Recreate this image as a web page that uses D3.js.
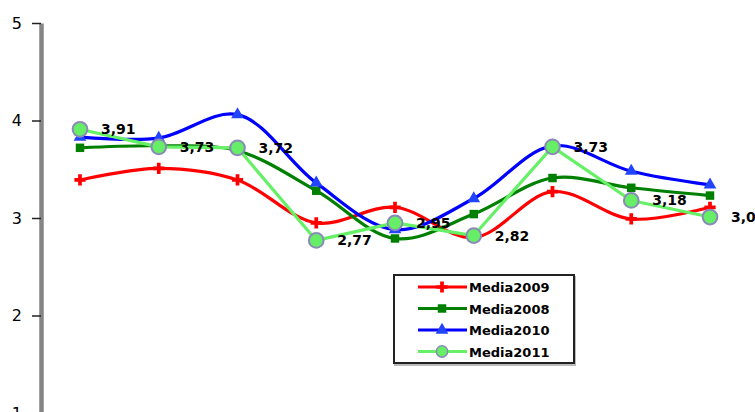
<!DOCTYPE html>
<html>
<head>
<meta charset="utf-8">
<script src="https://cdn.jsdelivr.net/npm/d3@7/dist/d3.min.js"></script>
<style>
  html, body { margin: 0; padding: 0; background: #fff; }
  svg { display: block; }
</style>
</head>
<body>
<svg id="chart" width="755" height="412"></svg>
<script>
// Nine survey items, four yearly averages
const categories = ["1", "2", "3", "4", "5", "6", "7", "8", "9"];
const media2009 = [3.39, 3.51, 3.39, 2.95, 3.11, 2.80, 3.27, 2.99, 3.11];
const media2008 = [3.72, 3.74, 3.69, 3.28, 2.79, 3.04, 3.41, 3.31, 3.23];
const media2010 = [3.83, 3.82, 4.06, 3.36, 2.88, 3.20, 3.74, 3.48, 3.34];
const media2011 = [3.91, 3.73, 3.72, 2.77, 2.95, 2.82, 3.73, 3.18, 3.01];
const yTicks = [1, 2, 3, 4, 5];
const seriesNames = ["Media2009", "Media2008", "Media2010", "Media2011"];

const svg = d3.select("#chart");

const x = d3.scalePoint().domain(categories).range([80, 710]);
const y = d3.scaleLinear().domain([1, 5]).range([413, 23]);

// Y axis
const yAxis = svg.append("g")
  .attr("transform", "translate(41,0)")
  .call(d3.axisLeft(y).tickValues(yTicks).tickFormat(d3.format("d"))
    .tickSize(9).tickPadding(10).tickSizeOuter(0));
yAxis.select(".domain").attr("stroke", "#858585").attr("stroke-width", 4.5);
yAxis.selectAll(".tick line").attr("stroke", "#222").attr("stroke-width", 1.5);
yAxis.selectAll(".tick text")
  .attr("fill", "#000")
  .style("font-family", "DejaVu Sans, sans-serif")
  .style("font-size", "16px");

const series = [
  { name: seriesNames[0], values: media2009, color: "#ff0000", symbol: d3.symbolCross, size: 70, fill: "#ff0000", stroke: "none", curve: d3.curveCatmullRom },
  { name: seriesNames[1], values: media2008, color: "#008000", symbol: d3.symbolSquare, size: 72, fill: "#008000", stroke: "none", curve: d3.curveCatmullRom },
  { name: seriesNames[2], values: media2010, color: "#0000ff", symbol: d3.symbolTriangle, size: 70, fill: "#2244ff", stroke: "none", curve: d3.curveCatmullRom },
  { name: seriesNames[3], values: media2011, color: "#66f066", symbol: d3.symbolCircle, size: 170, fill: "#66ee66", stroke: "#8a8ab8", curve: d3.curveLinear }
];

const plot = svg.append("g");

series.forEach(s => {
  const pts = s.values.map((v, i) => [x(categories[i]), y(v)]);
  plot.append("path")
    .attr("d", d3.line().curve(s.curve)(pts))
    .attr("fill", "none")
    .attr("stroke", s.color)
    .attr("stroke-width", 3.2)
    .attr("stroke-linejoin", "round");
  plot.selectAll(null)
    .data(pts)
    .enter()
    .append("path")
    .attr("transform", d => `translate(${d[0]},${d[1]})`)
    .attr("d", d3.symbol().type(s.symbol).size(s.size))
    .attr("fill", s.fill)
    .attr("stroke", s.stroke)
    .attr("stroke-width", 2);
});

// Value labels for Media2011
const fmt = v => d3.format(".2f")(v).replace(".", ",");
plot.selectAll(null)
  .data(media2011)
  .enter()
  .append("text")
  .attr("x", (d, i) => x(categories[i]) + 21)
  .attr("y", d => y(d) + 5)
  .attr("fill", "#000")
  .style("font-family", "DejaVu Sans, sans-serif")
  .style("font-weight", "bold")
  .style("font-size", "14px")
  .text(fmt);

// Legend
const legend = svg.append("g").attr("transform", "translate(394,275)");
legend.append("rect")
  .attr("x", 1).attr("y", 2).attr("width", 180).attr("height", 88)
  .attr("fill", "none").attr("stroke", "#bbb").attr("stroke-width", 2);
legend.append("rect")
  .attr("width", 180).attr("height", 88)
  .attr("fill", "#fff").attr("stroke", "#222").attr("stroke-width", 2);

series.forEach((s, i) => {
  const row = legend.append("g").attr("transform", `translate(0,${12 + i * 21.5})`);
  row.append("line")
    .attr("x1", 24).attr("x2", 73).attr("y1", 0).attr("y2", 0)
    .attr("stroke", s.color).attr("stroke-width", 3.2);
  row.append("path")
    .attr("transform", "translate(48,0)")
    .attr("d", d3.symbol().type(s.symbol).size(s.symbol === d3.symbolCircle ? 100 : s.size))
    .attr("fill", s.fill).attr("stroke", s.stroke).attr("stroke-width", 1.5);
  row.append("text")
    .attr("x", 75).attr("y", 5)
    .attr("fill", "#000")
    .style("font-family", "DejaVu Sans, sans-serif")
    .style("font-weight", "bold")
    .style("font-size", "13px")
    .text(s.name);
});
</script>
</body>
</html>
